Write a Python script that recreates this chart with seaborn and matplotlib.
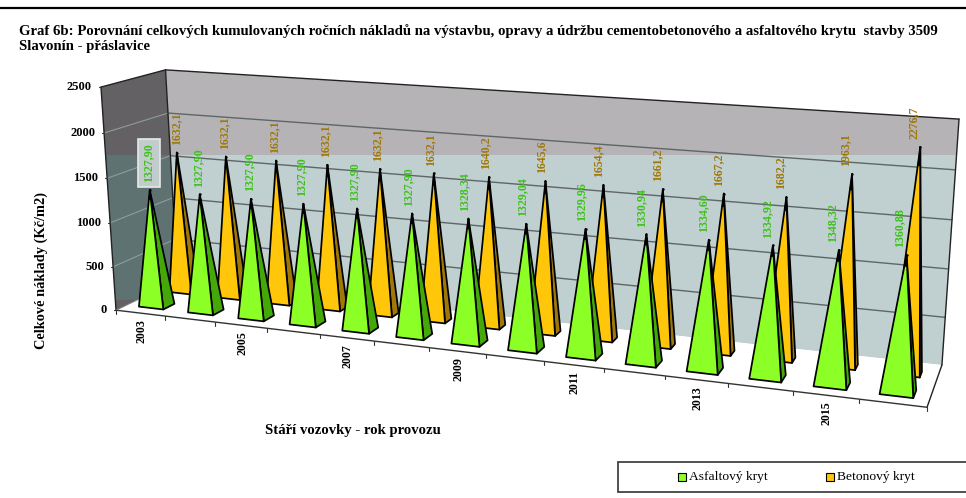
import numpy as np
import pandas as pd
import seaborn as sns
import matplotlib
matplotlib.use("Agg")
import matplotlib.pyplot as plt
from matplotlib.patches import Polygon, Rectangle

years = list(range(2003, 2017))
asfalt = [1327.90, 1327.90, 1327.90, 1327.90, 1327.90, 1327.90, 1328.34,
          1329.04, 1329.96, 1330.94, 1334.60, 1334.92, 1348.32, 1360.88]
beton = [1632.1, 1632.1, 1632.1, 1632.1, 1632.1, 1632.1, 1640.2,
         1645.6, 1654.4, 1661.2, 1667.2, 1682.2, 1963.1, 2276.7]
value_ticks = [0, 500, 1000, 1500, 2000, 2500]

TITLE = ("Graf 6b: Porovnání celkových kumulovaných ročních nákladů na výstavbu, opravy a údržbu "
         "cementobetonového a asfaltového krytu  stavby 3509\nSlavonín - přáslavice")

SERIF = "Liberation Serif"
GREEN, GREEN_DARK, GREEN_TEXT = "#8cff26", "#44a808", "#3dc21a"
ORANGE, ORANGE_DARK, ORANGE_TEXT = "#ffc60a", "#a07808", "#a07808"

sns.set_theme(style="white", rc={"font.family": SERIF})

W, H = 966, 498
fig = plt.figure(figsize=(W / 100, H / 100), dpi=100, facecolor="white")
ax = fig.add_axes([0, 0, 1, 1])
ax.set_xlim(0, W)
ax.set_ylim(H, 0)
ax.axis("off")

# Perspective camera of the 3-D box: (category, depth, value) in 0..1 -> canvas.
box_world = np.array([[0, 0, 0], [0, 0, 1], [0, 1, 1], [0, 1, 0],
                      [1, 1, 1], [1, 1, 0], [1, 0, 0], [.5, 0, 0]], float)
box_canvas = np.array([[116.5, 310], [100.5, 87], [166, 70], [177, 280],
                       [959, 119], [942, 365], [927, 407], [486, 355]], float)
rows, rhs = [], []
for (a, b, c), (x, y) in zip(box_world, box_canvas):
    rows.append([a, b, c, 1, 0, 0, 0, 0, -x * a, -x * b, -x * c]); rhs.append(x)
    rows.append([0, 0, 0, 0, a, b, c, 1, -y * a, -y * b, -y * c]); rhs.append(y)
camera = np.append(np.linalg.lstsq(np.array(rows), np.array(rhs), rcond=None)[0], 1).reshape(3, 4)

n_cat = len(years)
v_max = value_ticks[-1]


def project(cat, depth, value):
    p = camera @ np.array([cat / n_cat, depth, value / v_max, 1.0])
    return p[0] / p[2], p[1] / p[2]


def quad(points, **kw):
    patch = Polygon([project(*p) for p in points], closed=True, **kw)
    ax.add_patch(patch)
    return patch


def band(patch_kw, points, y0, y1):
    patch = quad(points, **patch_kw)
    patch.set_clip_path(Rectangle((0, y0), W, y1 - y0, transform=ax.transData))


# Walls and floor
back = [(0, 1, 0), (n_cat, 1, 0), (n_cat, 1, v_max), (0, 1, v_max)]
side = [(0, 0, 0), (0, 1, 0), (0, 1, v_max), (0, 0, v_max)]
floor = [(0, 0, 0), (n_cat, 0, 0), (n_cat, 1, 0), (0, 1, 0)]
quad(back, fc="#b5b3b5", ec="none")
band(dict(fc="#c0cfcf", ec="none"), back, 155, H)
quad(side, fc="#636163", ec="none")
band(dict(fc="#5f7272", ec="none"), side, 155, 300)
quad(floor, fc="white", ec="none")

# Gridlines across both walls
grid_rows = []
for v in value_ticks[1:-1]:
    xs, ys = zip(*[project(c, 1, v) for c in np.linspace(0, n_cat, 15)])
    grid_rows.append(pd.DataFrame({"x": xs, "y": ys, "level": v}))
    x0, y0 = project(0, 0, v)
    x1, y1 = project(0, 1, v)
    ax.plot([x0, x1], [y0, y1], color="#8f9c9c", lw=0.8, zorder=2)
sns.lineplot(data=pd.concat(grid_rows), x="x", y="y", units="level", estimator=None,
             color="#5f6666", lw=1.0, ax=ax, legend=False, zorder=2)

# Box outline
for a, b in [((0, 0, 0), (0, 0, v_max)), ((0, 0, v_max), (0, 1, v_max)),
             ((0, 1, v_max), (n_cat, 1, v_max)), ((n_cat, 1, v_max), (n_cat, 1, 0)),
             ((n_cat, 1, 0), (n_cat, 0, 0)), ((0, 1, v_max), (0, 1, 0))]:
    ax.plot(*zip(project(*a), project(*b)), color="#222222", lw=1.0, zorder=3)
ax.plot(*zip(project(0, 0, 0), project(n_cat, 0, 0)), color="#333333", lw=1.0, zorder=3)
ax.plot(*zip(project(0, 0, 0), project(0, 1, 0)), color="#777777", lw=0.8, zorder=3)


def pyramid(i, value, u0, u1, d0, d1, face, shade, z):
    u0, u1 = i + u0, i + u1
    tip = ((u0 + u1) / 2, (d0 + d1) / 2, value)
    corners = [(u0, d0, 0), (u1, d0, 0), (u1, d1, 0)]
    for pts, col in (([corners[1], corners[2], tip], shade),
                     ([corners[0], corners[1], tip], face)):
        quad(pts, fc=col, ec="black", lw=1.25, joinstyle="round", zorder=z)
    # The outlines merge into a solid black wedge close to the apex
    cap = [tuple(t + 0.08 * (c - t) for c, t in zip(corner, tip)) for corner in corners]
    quad(cap + [tip], fc="black", ec="black", lw=0.6, zorder=z)
    return project(*tip)


tips = []
for i, v in enumerate(beton):
    tips.append((*pyramid(i, v, 0.28, 0.74, 0.64, 0.78, ORANGE, ORANGE_DARK, 4 + i * 0.01), "Betonový kryt"))
for i, v in enumerate(asfalt):
    tips.append((*pyramid(i, v, 0.26, 0.76, 0.16, 0.34, GREEN, GREEN_DARK, 5 + i * 0.01), "Asfaltový kryt"))

# Apex markers, where the outlines of each pyramid converge
apex = pd.DataFrame(tips, columns=["x", "y", "kryt"])
sns.scatterplot(data=apex, x="x", y="y", color="black", s=3, linewidth=0, ax=ax,
                legend=False, zorder=6)
ax.set_xlim(0, W)
ax.set_ylim(H, 0)
ax.axis("off")


# Data labels
def fmt(v, dec):
    return f"{v:.{dec}f}".replace(".", ",")


for i, (va, vb) in enumerate(zip(asfalt, beton)):
    shift = -1 - 6 * i / (n_cat - 1)
    xa, ya = apex.x[n_cat + i], apex.y[n_cat + i]
    xb, yb = apex.x[i], apex.y[i]
    box = dict(fc="#c3cccc", ec="#e8e8e8", lw=1.2, pad=3.5) if i == 0 else None
    ax.text(xb + shift, yb - 24, fmt(vb, 1), rotation=90, ha="center", va="center",
            color=ORANGE_TEXT, fontsize=8.6, fontweight="bold", zorder=7)
    ax.text(xa + shift, ya - 27, fmt(va, 2), rotation=90, ha="center", va="center",
            color=GREEN_TEXT, fontsize=8.6, fontweight="bold", bbox=box, zorder=7)

# Axis ticks and labels
for i in range(n_cat + 1):
    x, y = project(i, 0, 0)
    ax.plot([x, x], [y, y + 3.5], color="#333333", lw=0.8, zorder=3)
for i, year in enumerate(years):
    if i % 2 == 0:
        x, y = project(i + 0.5, 0, 0)
        ax.text(x + 1, y + 6.5, str(year), rotation=90, ha="center", va="top",
                fontsize=8.6, fontweight="bold", color="black")
for v in value_ticks:
    x, y = project(0, 0, v)
    ax.plot([x - 2, x], [y, y], color="#333333", lw=0.8, zorder=3)
    ax.text(x - 9, y, str(v), ha="right", va="center", fontsize=9, fontweight="bold", color="black")

ax.text(41, 270, "Celkové náklady (Kč/m2)", rotation=90, ha="center", va="center",
        fontsize=10.4, fontweight="bold", color="black")
ax.text(352.5, 430, "Stáří vozovky - rok provozu", ha="center", va="center",
        fontsize=10.6, fontweight="bold", color="black")

# Title and the rule above it
ax.plot([0, W], [8, 8], color="black", lw=1.6)
ax.text(19, 38.5, TITLE, ha="left", va="center", fontsize=10.6, fontweight="bold",
        color="black", linespacing=1.25)

# Legend box
ax.add_patch(Rectangle((618, 462), W - 618 + 3, 30, fc="white", ec="#333333", lw=1.2))
for x0, col, label in ((678, GREEN, "Asfaltový kryt"), (826, ORANGE, "Betonový kryt")):
    ax.add_patch(Rectangle((x0, 473), 8, 7.5, fc=col, ec="black", lw=0.8))
    ax.text(x0 + 11, 477, label, ha="left", va="center", fontsize=9.7, color="black")

fig.savefig("out.png", dpi=100)
